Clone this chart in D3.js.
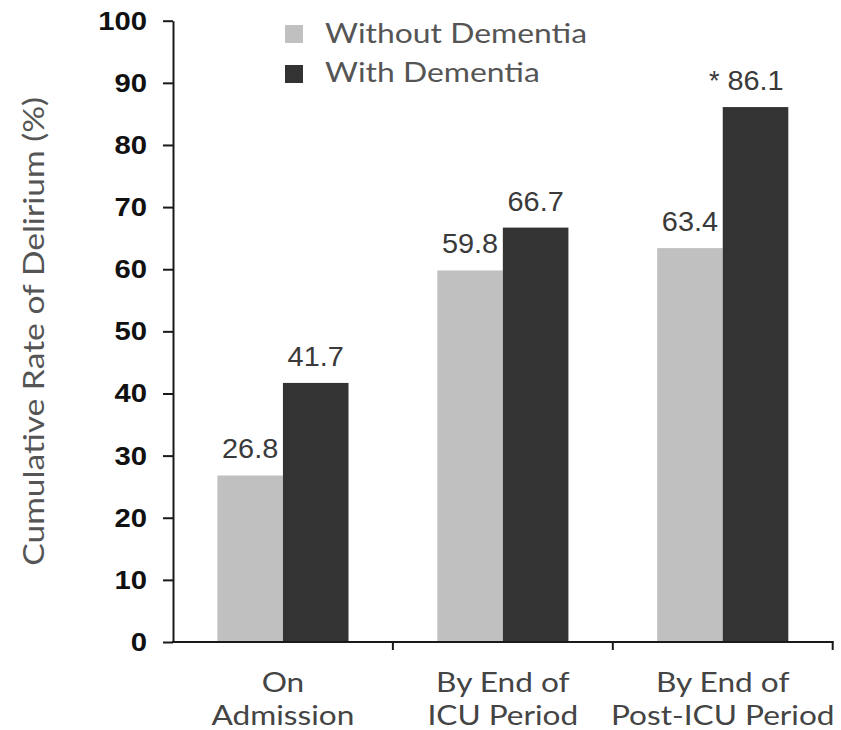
<!DOCTYPE html>
<html>
<head>
<meta charset="utf-8">
<script src="https://cdn.jsdelivr.net/npm/d3@7"></script>
<style>
  html, body { margin: 0; padding: 0; background: #fff; }
  svg { display: block; }
</style>
</head>
<body>
<svg id="chart" width="841" height="730"></svg>
<script>
// ---- data ----
const categories = ["On Admission", "By End of ICU Period", "By End of Post-ICU Period"];
const categoryLines = [["On", "Admission"], ["By End of", "ICU Period"], ["By End of", "Post-ICU Period"]];
const seriesNames = ["Without Dementia", "With Dementia"];
const withoutDementia = [26.8, 59.8, 63.4];
const withDementia = [41.7, 66.7, 86.1];
const withDementiaNotes = ["", "", "*"];
const yTicks = [0, 10, 20, 30, 40, 50, 60, 70, 80, 90, 100];
const seriesColors = ["#c0c0c0", "#333333"];

const seriesValues = [withoutDementia, withDementia];
const seriesNotes = [["", "", ""], withDementiaNotes];

// ---- layout ----
const svg = d3.select("#chart");
const margin = { left: 173, right: 8.3, top: 20.7, bottom: 88 };
const W = 841, H = 730;

// widen glyphs horizontally (the reference type is set slightly wide)
function stretch(node, f) {
  const w = node.getComputedTextLength();
  d3.select(node).attr("textLength", w * f).attr("lengthAdjust", "spacingAndGlyphs");
}

const x = d3.scaleBand().domain(categories)
  .range([margin.left, W - margin.right]).paddingInner(0).paddingOuter(0);
const x1 = d3.scaleBand().domain(seriesNames)
  .range([0, x.bandwidth()]).paddingInner(0).paddingOuter(0.677);
const y = d3.scaleLinear().domain([0, 100]).range([H - margin.bottom, margin.top]);

const humanist = "Lato, 'Open Sans', sans-serif";
const arial = "Arial, 'Liberation Sans', sans-serif";

// bars
seriesNames.forEach((s, si) => {
  svg.append("g").selectAll("rect")
    .data(categories.map((c, i) => ({ c, v: seriesValues[si][i] })))
    .join("rect")
    .attr("x", d => x(d.c) + x1(s))
    .attr("y", d => y(d.v))
    .attr("width", x1.bandwidth())
    .attr("height", d => y(0) - y(d.v))
    .attr("fill", seriesColors[si]);
});

// value labels
seriesNames.forEach((s, si) => {
  categories.forEach((c, i) => {
    const v = seriesValues[si][i];
    const cx = x(c) + x1(s) + x1.bandwidth() / 2;
    const t = svg.append("text")
      .attr("x", cx)
      .attr("y", y(v) - 17)
      .attr("text-anchor", "middle")
      .attr("font-family", arial)
      .attr("font-size", 27)
      .attr("fill", "#3a3a3a")
      .text(v.toFixed(1));
    stretch(t.node(), 1.07);
    const note = seriesNotes[si][i];
    if (note) {
      const w = t.node().getComputedTextLength() * 1.07;
      svg.append("text")
        .attr("x", cx - w / 2 - 6)
        .attr("y", y(v) - 17)
        .attr("text-anchor", "end")
        .attr("font-family", arial)
        .attr("font-size", 27)
        .attr("fill", "#3a3a3a")
        .text(note);
    }
  });
});

// y axis
const yAxis = svg.append("g")
  .attr("transform", `translate(${margin.left},0)`)
  .call(d3.axisLeft(y).tickValues(yTicks).tickSize(10).tickSizeOuter(0).tickPadding(16));
yAxis.select(".domain").attr("stroke", "#1a1a1a").attr("stroke-width", 2);
yAxis.selectAll(".tick line").attr("stroke", "#1a1a1a").attr("stroke-width", 2);
yAxis.selectAll(".tick text")
  .attr("font-family", arial)
  .attr("font-weight", "bold")
  .attr("font-size", 25)
  .attr("fill", "#111")
  .attr("dy", "0.34em")
  .each(function () { stretch(this, 1.17); });

// x axis
const xAxisG = svg.append("g");
xAxisG.append("line")
  .attr("x1", x.range()[0] - 1).attr("x2", x.range()[1] + 1)
  .attr("y1", y(0)).attr("y2", y(0))
  .attr("stroke", "#1a1a1a").attr("stroke-width", 2);
const boundaries = categories.slice(1).map(c => x(c)).concat([x.range()[1]]);
xAxisG.selectAll("line.tk").data(boundaries).join("line").attr("class", "tk")
  .attr("x1", d => d).attr("x2", d => d)
  .attr("y1", y(0)).attr("y2", y(0) + 8)
  .attr("stroke", "#1a1a1a").attr("stroke-width", 2);

// category labels
categories.forEach((c, i) => {
  const t = svg.append("text")
    .attr("x", x(c) + x.bandwidth() / 2)
    .attr("text-anchor", "middle")
    .attr("font-family", humanist)
    .attr("font-size", 27)
    .attr("fill", "#444");
  categoryLines[i].forEach((ln, j) => {
    const sp = t.append("tspan")
      .attr("x", x(c) + x.bandwidth() / 2)
      .attr("y", 692 + j * 33)
      .text(ln);
    stretch(sp.node(), 1.17);
  });
});

// y axis title
const title = svg.append("text")
  .attr("transform", `translate(44, ${(y(0) + y(100)) / 2}) rotate(-90)`)
  .attr("text-anchor", "middle")
  .attr("font-family", humanist)
  .attr("font-size", 28)
  .attr("fill", "#555")
  .text("Cumulative Rate of Delirium (%)");
stretch(title.node(), 1.2);

// legend
const legend = svg.append("g");
seriesNames.forEach((s, si) => {
  legend.append("rect")
    .attr("x", 285).attr("y", 25 + si * 40)
    .attr("width", 18).attr("height", 18)
    .attr("fill", seriesColors[si]);
  const lt = legend.append("text")
    .attr("x", 325).attr("y", 43 + si * 39)
    .attr("font-family", humanist)
    .attr("font-size", 27)
    .attr("fill", "#555")
    .text(s);
  stretch(lt.node(), 1.18);
});
</script>
</body>
</html>
